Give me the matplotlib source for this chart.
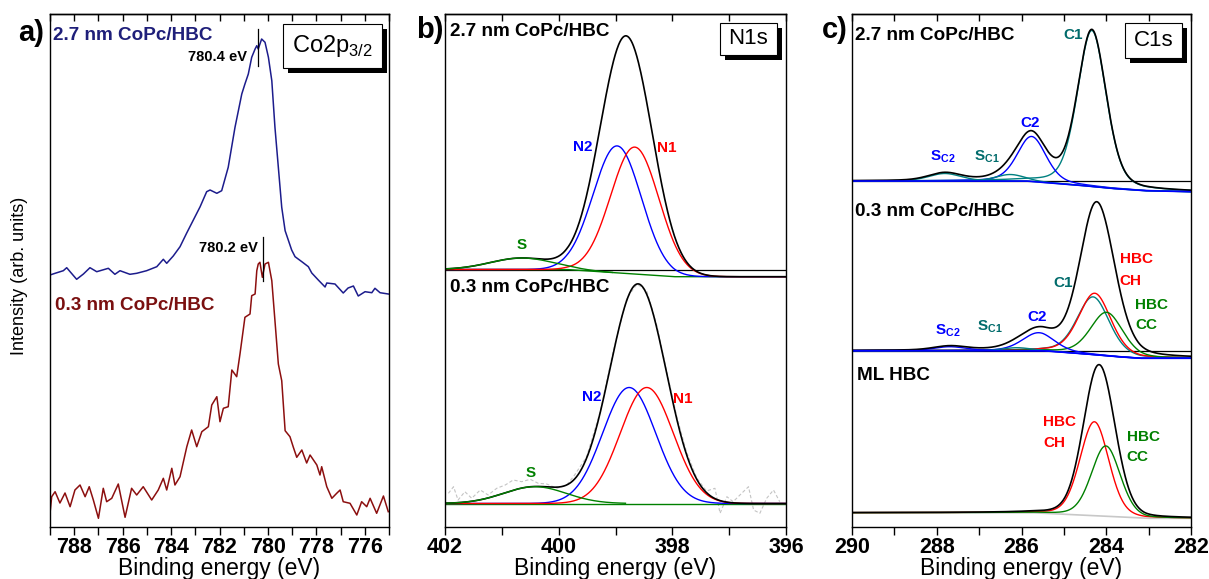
import numpy as np
import matplotlib.pyplot as plt
from matplotlib.patches import Rectangle
from matplotlib.ticker import MultipleLocator

plt.rcParams['font.family'] = ['Liberation Sans', 'DejaVu Sans']
plt.rcParams['mathtext.fontset'] = 'custom'
plt.rcParams['mathtext.rm'] = 'Liberation Sans'
plt.rcParams['mathtext.bf'] = 'Liberation Sans:bold'

W, H = 1209, 579

# ---- Co 2p3/2 spectra (intensity in arb. units, offset stacked) ----
co_thick_E = [789.00, 788.79, 788.45, 788.31, 788.17, 787.90, 787.62, 787.35, 787.07, 786.59,
              786.32, 786.11, 785.70, 785.42, 785.01, 784.59, 784.32, 784.18, 783.91, 783.63,
              783.36, 783.08, 782.80, 782.53, 782.39, 782.11, 781.91, 781.64, 781.36, 781.08,
              780.95, 780.81, 780.67, 780.53, 780.46, 780.40, 780.26, 780.12, 779.98, 779.84,
              779.71, 779.57, 779.43, 779.29, 779.02, 778.88, 778.60, 778.33, 778.19, 777.92,
              777.64, 777.57, 777.23, 776.89, 776.69, 776.47, 776.27, 775.99, 775.71, 775.58,
              775.37, 775.03]
co_thick_I = [252, 253.7, 256.3, 259.3, 255.3, 247.7, 253, 259.3, 255.3, 258.7,
              252.7, 256.3, 252.7, 253.7, 256.3, 260.3, 267.7, 263.7, 271, 280.3,
              293.7, 307, 320.3, 335.3, 337, 333.7, 336.3, 359.7, 399.7, 433,
              443, 453, 469.7, 478, 481.3, 478, 488, 484.7, 469.7, 446.3,
              399.7, 359.7, 319.7, 296.3, 277, 270.3, 265.3, 260.3, 254, 247,
              240, 244, 243, 234, 239, 241, 231, 235.3, 234.3, 238.7,
              234.3, 233]
co_thin_E = [789.00, 788.93, 788.79, 788.59, 788.38, 788.17, 787.97, 787.76, 787.55, 787.38,
             787.21, 787.00, 786.80, 786.66, 786.45, 786.18, 785.90, 785.63, 785.42, 785.15,
             784.80, 784.53, 784.32, 784.18, 783.97, 783.84, 783.63, 783.49, 783.35, 783.15,
             782.94, 782.73, 782.46, 782.32, 782.11, 781.98, 781.84, 781.64, 781.49, 781.29,
             781.15, 780.95, 780.74, 780.67, 780.53, 780.46, 780.40, 780.33, 780.23, 780.12,
             779.98, 779.84, 779.71, 779.57, 779.43, 779.29, 779.09, 778.95, 778.81, 778.60,
             778.40, 778.26, 777.98, 777.85, 777.78, 777.57, 777.36, 777.16, 777.02, 776.89,
             776.61, 776.33, 776.13, 775.92, 775.78, 775.51, 775.23, 775.03]
co_thin_I = [13.7, 30.3, 35.3, 24, 34, 20.3, 37, 42, 30.3, 40.3,
             27, 8.7, 38.7, 25.3, 28.7, 43, 9.7, 38.7, 32, 40.3,
             27, 37, 48.7, 37, 58.7, 42, 50.3, 65.3, 80.3, 97,
             80.3, 95.3, 100.3, 122, 130.3, 105.3, 118.7, 120.3, 157, 150.3,
             173.7, 209.7, 213, 231.3, 233, 256.3, 263, 264.7, 249.7, 263,
             264.7, 246.3, 206.3, 163, 146.3, 96.3, 90.3, 79.7, 69.7, 77,
             64, 72, 62, 52, 60.3, 40.3, 28.7, 33.7, 37, 25.3,
             23.7, 12, 25.3, 20.3, 28.7, 13.7, 31, 15.3]
co_peak_thick, co_peak_thin = 780.4, 780.2

# ---- N 1s fits: components N1, N2, S (position eV, height, FWHM eV) ----
n1s_thick_pos = [398.66, 398.97, 400.65]
n1s_thick_amp = [127, 127, 11.5]
n1s_thick_fwhm = [1.0, 1.0, 1.3]
n1s_thick_bg_E = [402.0, 399.86, 397.98, 396.0]
n1s_thick_bg = [257.5, 257.5, 250.3, 250.3]

n1s_thin_pos = [398.45, 398.76, 400.42]
n1s_thin_amp = [116, 116, 16.8]
n1s_thin_fwhm = [1.1, 1.1, 1.3]
n1s_thin_bg_E = [402.0, 396.0]
n1s_thin_bg = [23.5, 23.5]

# measured N 1s points of the 0.3 nm film (grey)
n1s_thin_raw_E = [401.94, 401.85, 401.77, 401.65, 401.53, 401.38, 401.24, 401.09, 400.94, 400.80,
                  400.65, 400.50, 400.36, 400.21, 400.03, 399.86, 399.74, 399.51, 399.27, 399.04,
                  398.80, 398.62, 398.45, 398.27, 398.10, 397.92, 397.75, 397.57, 397.40, 397.25,
                  397.16, 397.04, 396.93, 396.78, 396.66, 396.57, 396.46, 396.34, 396.22, 396.11]
n1s_thin_raw = [33.7, 40.3, 27, 35.3, 28.7, 37, 32, 38.7, 42, 47,
                45.3, 47.7, 43.7, 43, 38.7, 42, 50.3, 70, 115, 176,
                229, 243, 236, 201, 156, 110, 75, 49, 36, 38.7,
                13.7, 30.3, 25.3, 33.7, 40.3, 17, 13.7, 28.7, 37, 25.3]

# ---- C 1s fits ----
# 2.7 nm: C1, C2, S_C1, S_C2
c1s_thick_pos = [284.34, 285.76, 286.27, 287.81]
c1s_thick_amp = [156, 45, 6.5, 7.5]
c1s_thick_fwhm = [0.8, 0.8, 0.8, 0.9]
c1s_thick_bg_E = [290.0, 285.9, 284.7, 283.9, 283.1, 282.0]
c1s_thick_bg = [346, 346, 342, 338.7, 336.3, 335.3]

# 0.3 nm: C1, HBC CH, HBC CC, C2, S_C1, S_C2
c1s_thin_pos = [284.31, 284.27, 283.99, 285.60, 286.11, 287.69]
c1s_thin_amp = [57.7, 61.5, 43.5, 18, 3, 4]
c1s_thin_fwhm = [0.9, 0.9, 0.9, 0.9, 0.8, 0.9]
c1s_thin_bg_E = [290.0, 285.5, 284.6, 283.8, 283.2, 282.0]
c1s_thin_bg = [176.3, 176.3, 173.5, 170.5, 168.7, 168.7]

# ML HBC: HBC CH, HBC CC
c1s_ml_pos = [284.28, 284.01]
c1s_ml_amp = [94, 70.4]
c1s_ml_fwhm = [0.8, 0.8]
c1s_ml_bg_E = [290.0, 285.76, 284.4, 283.09, 282.0]
c1s_ml_bg = [14.3, 14.3, 11.5, 8.7, 8.7]


def pvoigt(E, pos, amp, fwhm, eta):
    s = fwhm / 2.3548
    g = np.exp(-(E - pos) ** 2 / (2 * s * s))
    lor = 1.0 / (1.0 + ((E - pos) / (fwhm / 2)) ** 2)
    return amp * ((1 - eta) * g + eta * lor)


def make_axes(left, right, xlim, major):
    ax = fig.add_axes([left / W, 1 - 527 / H, (right - left) / W, 513 / H])
    ax.set_xlim(*xlim)
    ax.set_ylim(0, 513)
    ax.set_yticks([])
    ax.set_xticks(major)
    ax.xaxis.set_minor_locator(MultipleLocator(1))
    ax.tick_params(axis='x', which='both', direction='out', length=6, width=1.0,
                   pad=1.5, labelsize=15.5)
    for lab in ax.get_xticklabels():
        lab.set_fontweight('bold')
    for sp in ax.spines.values():
        sp.set_linewidth(1.0)
    top = ax.secondary_xaxis('top')
    top.xaxis.set_major_locator(MultipleLocator(1))
    top.tick_params(direction='in', length=5, width=1.0, labeltop=False)
    top.spines['top'].set_linewidth(1.0)
    ax.set_xlabel('Binding energy (eV)', fontsize=16.5, labelpad=-1)
    return ax


def label_box(x0, y0, x1, y1, text, fs):
    fig.add_artist(Rectangle(((x0 + 5) / W, 1 - (y1 + 5) / H), (x1 - x0) / W, (y1 - y0) / H,
                             transform=fig.transFigure, facecolor='k', edgecolor='none', zorder=10))
    fig.add_artist(Rectangle((x0 / W, 1 - y1 / H), (x1 - x0) / W, (y1 - y0) / H,
                             transform=fig.transFigure, facecolor='white', edgecolor='k',
                             lw=0.8, zorder=11))
    fig.text((x0 + x1) / 2 / W, 1 - (y0 + y1) / 2 / H, text, fontsize=fs,
             ha='center', va='center', zorder=12)


fig = plt.figure(figsize=(W / 100, H / 100), dpi=100)

bold = dict(fontweight='bold')
title_fs = 13.6
lab = dict(fontsize=11, va='center', **bold)

# ---------------- a) Co2p ----------------
ax = make_axes(50, 389, (789, 775), np.arange(776, 789, 2))
ax.plot(co_thick_E, co_thick_I, color='#1c1c8c', lw=1.1)
ax.plot(co_thin_E, co_thin_I, color='#8c0f0f', lw=1.1)
ax.plot([co_peak_thick] * 2, [461, 498], color='k', lw=0.9)
ax.plot([co_peak_thin] * 2, [246, 290], color='k', lw=0.9)
ax.text(780.86, 470.3, f'{co_peak_thick} eV', ha='right', va='center', fontsize=10.5, **bold)
ax.text(780.41, 278.7, f'{co_peak_thin} eV', ha='right', va='center', fontsize=10.5, **bold)
ax.text(788.86, 492, '2.7 nm CoPc/HBC', color='#1f1f7a', fontsize=title_fs, va='center', **bold)
ax.text(788.79, 222, '0.3 nm CoPc/HBC', color='#7a1010', fontsize=title_fs, va='center', **bold)
label_box(283.3, 24, 381.7, 68.3, r'Co2p$_{3/2}$', 17)
fig.text(31 / W, 1 - 33 / H, 'a)', fontsize=21, ha='center', va='center', **bold)
fig.text(20 / W, 1 - 276 / H, 'Intensity (arb. units)', fontsize=13, rotation=90,
         ha='center', va='center')

# ---------------- b) N1s ----------------
ax = make_axes(445, 786, (402, 396), [402, 400, 398, 396])
E = np.linspace(402, 396, 600)
ax.axhline(257.5, color='k', lw=0.9)
ax.plot(n1s_thin_raw_E, n1s_thin_raw, color='#c4c4c4', lw=0.8, ls=(0, (3, 2)))
for pos, amp, fw, bgE, bgI in [
    (n1s_thick_pos, n1s_thick_amp, n1s_thick_fwhm, n1s_thick_bg_E, n1s_thick_bg),
    (n1s_thin_pos, n1s_thin_amp, n1s_thin_fwhm, n1s_thin_bg_E, n1s_thin_bg),
]:
    bg = np.interp(E, bgE[::-1], bgI[::-1])
    comps = [pvoigt(E, p, a, f, 0.0) for p, a, f in zip(pos, amp, fw)]
    ax.plot(E, bg, color='#008000', lw=1.0)
    ax.plot(E, bg + comps[1], color='#0000ff', lw=1.0)
    ax.plot(E, bg + comps[0], color='#ff0000', lw=1.0)
    ax.plot(E, bg + sum(comps), color='k', lw=1.2)
    m = np.abs(E - pos[2]) < 1.6
    ax.plot(E[m], (bg + comps[2])[m], color='#008000', lw=1.0)

ax.text(401.91, 495.3, '2.7 nm CoPc/HBC', fontsize=title_fs, va='center', **bold)
ax.text(401.91, 240, '0.3 nm CoPc/HBC', fontsize=title_fs, va='center', **bold)
ax.text(399.57, 380.3, 'N2', color='#0000ff', ha='center', **lab)
ax.text(398.10, 379.3, 'N1', color='#ff0000', ha='center', **lab)
ax.text(400.65, 282, 'S', color='#008000', ha='center', **lab)
ax.text(399.42, 129.7, 'N2', color='#0000ff', ha='center', **lab)
ax.text(397.81, 128, 'N1', color='#ff0000', ha='center', **lab)
ax.text(400.50, 53.7, 'S', color='#008000', ha='center', **lab)
label_box(720, 22.7, 776.7, 55, 'N1s', 16)
fig.text(430 / W, 1 - 30 / H, 'b)', fontsize=21, ha='center', va='center', **bold)

# ---------------- c) C1s ----------------
ax = make_axes(852, 1191, (290, 282), [290, 288, 286, 284, 282])
E = np.linspace(290, 282, 800)
ax.axhline(346, color='k', lw=0.9)
ax.axhline(176.3, color='k', lw=0.9)
teal, blue, red, green = '#008080', '#0000ff', '#ff0000', '#008000'
eta = 0.3

# 2.7 nm CoPc/HBC
bg = np.interp(E, c1s_thick_bg_E[::-1], c1s_thick_bg[::-1])
comps = [pvoigt(E, p, a, f, eta) for p, a, f in zip(c1s_thick_pos, c1s_thick_amp, c1s_thick_fwhm)]
for c, col in zip(comps, [teal, blue, teal, teal]):
    ax.plot(E, bg + c, color=col, lw=1.0)
ax.plot(E, bg + sum(comps), color='k', lw=1.2)
ax.plot(E, bg, color=blue, lw=1.2)

# 0.3 nm CoPc/HBC
bg = np.interp(E, c1s_thin_bg_E[::-1], c1s_thin_bg[::-1])
comps = [pvoigt(E, p, a, f, eta) for p, a, f in zip(c1s_thin_pos, c1s_thin_amp, c1s_thin_fwhm)]
for c, col in zip(comps, [teal, red, green, blue, teal, blue]):
    ax.plot(E, bg + c, color=col, lw=1.0)
ax.plot(E, bg + sum(comps), color='k', lw=1.2)
ax.plot(E, bg, color=blue, lw=1.2)

# ML HBC
bg = np.interp(E, c1s_ml_bg_E[::-1], c1s_ml_bg[::-1])
comps = [pvoigt(E, p, a, f, 0.2) for p, a, f in zip(c1s_ml_pos, c1s_ml_amp, c1s_ml_fwhm)]
ax.plot(E, bg, color='#c8c8c8', lw=1.2)
ax.plot(E, bg + comps[0], color=red, lw=1.0)
ax.plot(E, bg + comps[1], color=green, lw=1.0)
ax.plot(E, bg + sum(comps), color='k', lw=1.2)

ax.text(289.93, 492, '2.7 nm CoPc/HBC', fontsize=title_fs, va='center', **bold)
ax.text(284.78, 492, 'C1', color='#006b6b', ha='center', **lab)
ax.text(285.80, 404.3, 'C2', color=blue, ha='center', **lab)
ax.text(287.85, 370, r'$\mathbf{S_{C2}}$', color=blue, ha='center', **lab)
ax.text(286.82, 370, r'$\mathbf{S_{C1}}$', color='#006b6b', ha='center', **lab)

ax.text(289.93, 315.3, '0.3 nm CoPc/HBC', fontsize=title_fs, va='center', **bold)
ax.text(283.68, 267.7, 'HBC', color=red, ha='left', **lab)
ax.text(283.68, 246, 'CH', color=red, ha='left', **lab)
ax.text(285.01, 243.7, 'C1', color='#006b6b', ha='center', **lab)
ax.text(283.32, 222, 'HBC', color=green, ha='left', **lab)
ax.text(283.32, 202, 'CC', color=green, ha='left', **lab)
ax.text(285.64, 210.3, 'C2', color=blue, ha='center', **lab)
ax.text(287.73, 196, r'$\mathbf{S_{C2}}$', color=blue, ha='center', **lab)
ax.text(286.74, 200, r'$\mathbf{S_{C1}}$', color='#006b6b', ha='center', **lab)

ax.text(289.89, 152, 'ML HBC', fontsize=title_fs, va='center', **bold)
ax.text(285.49, 105.3, 'HBC', color=red, ha='left', **lab)
ax.text(285.49, 83.7, 'CH', color=red, ha='left', **lab)
ax.text(283.52, 90.3, 'HBC', color=green, ha='left', **lab)
ax.text(283.52, 69.7, 'CC', color=green, ha='left', **lab)
label_box(1125, 23.3, 1181.7, 58.3, 'C1s', 16)
fig.text(835 / W, 1 - 30 / H, 'c)', fontsize=21, ha='center', va='center', **bold)

fig.savefig('out.png', dpi=100)
